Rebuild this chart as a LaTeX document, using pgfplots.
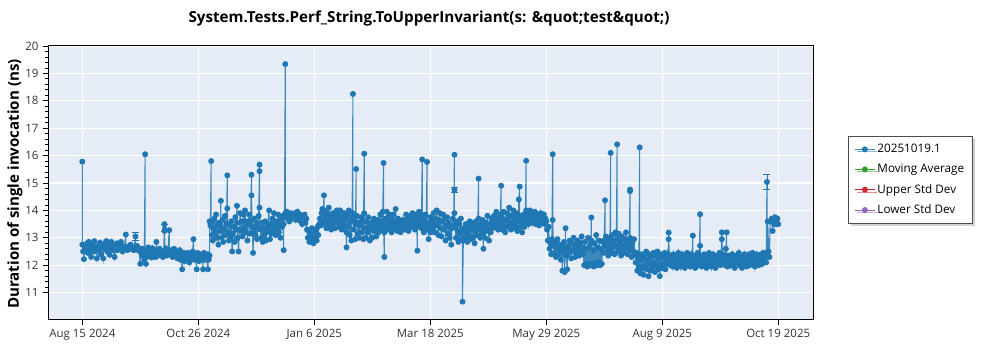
\documentclass[border=0pt]{standalone}
\usepackage{pgfplots}
\pgfplotsset{compat=1.18}
\usepackage{fontspec}
\setmainfont{Open Sans}
\usetikzlibrary{shadows}
\definecolor{c1}{HTML}{1F77B4}
\definecolor{c2}{HTML}{2CA02C}
\definecolor{c3}{HTML}{D62728}
\definecolor{c4}{HTML}{9467BD}
\definecolor{bgc}{HTML}{E5ECF6}
\definecolor{tickc}{HTML}{333333}
\begin{document}
\begin{tikzpicture}[x=1pt,y=1pt]
\path[use as bounding box] (0,0) rectangle (1000,350);
\begin{axis}[
  at={(48pt,30pt)}, anchor=south west,
  scale only axis, width=765.5pt, height=274pt,
  xmin=-21.3, xmax=453.9, ymin=10, ymax=20,
  axis background/.style={fill=bgc},
  axis line style={black, line width=1pt},
  xtick={0,72,144,216,288,360,432},
  xticklabels={Aug 15 2024,Oct 26 2024,Jan 6 2025,Mar 18 2025,May 29 2025,Aug 9 2025,Oct 19 2025},
  ytick={11,12,13,14,15,16,17,18,19,20},
  minor y tick num=4,
  tick align=outside,
  major tick length=5pt, minor tick length=3pt,
  tick style={black, line width=0.8pt},
  xtick pos=bottom, ytick pos=left,
  grid=major,
  major grid style={white, line width=1.2pt},
  minor grid style={draw=none},
  tick label style={font=\fontsize{11.5}{13}\selectfont, text=tickc},
  /pgf/number format/assume math mode=true,
  xticklabel style={yshift=-1pt},
  yticklabel style={xshift=-1pt},
  legend style={at={(1.045,0.6715)}, anchor=north west, draw=black!70, line width=0.8pt,
    fill=white, drop shadow={shadow xshift=2.5pt, shadow yshift=-2.5pt, fill=black!35},
    font=\fontsize{11.7}{13}\selectfont, row sep=6pt, inner xsep=6pt, inner ysep=6pt},
  legend cell align=left,
  legend image code/.code={\draw[mark repeat=2,mark phase=2,#1] plot coordinates {(0pt,0pt)(10pt,0pt)(20pt,0pt)};},
  clip=true,
]
\addplot[c1, draw opacity=0.85, line width=1.1pt, mark=*, mark size=2.4pt, mark options={solid, fill=c1, draw=c1, opacity=1}] coordinates {
(0,15.78)(0,12.75)(0.5,12.5)(1,12.22)(1.5,12.7)(2,12.55)(3,12.8)(3.5,12.45)(4,12.85)(5,12.6)(5.5,12.3)(6,12.75)(7,12.5)(7.5,12.88)(8,12.62)(9,12.25)(9.5,12.7)(10,12.55)(11,12.82)(11.5,12.4)(12,12.65)(13,12.25)(13.5,12.78)(14,12.6)(15,12.88)(15.5,12.5)(16,12.7)(17,12.38)(17.5,12.62)(18,12.85)(19,12.55)(19.5,12.7)(20,12.3)(21,12.65)(21.5,12.8)(22,12.55)(23,12.72)(23.5,12.6)(24,12.85)(25,12.5)(25.5,12.68)(26,12.6)(27,13.12)(27,12.65)(28,12.55)(29,12.7)(29.5,12.6)(30,12.75)(31,12.58)(31.5,12.65)(32,12.55)(33,13.05)(33,12.62)(34,12.7)(34.5,12.55)(35,12.62)
(36,12.05)(36.5,12.45)(37,12.6)(37.5,12.35)(38,12.55)(38.5,12.2)(39,16.05)(39,12.4)(39.5,12.05)(40,12.3)(40.5,12.55)(41,12.65)(41.5,12.35)(42,12.5)(43,12.28)(43.5,12.62)(44,12.45)(45,12.55)(45.5,12.3)(46,12.85)(46.5,12.5)(47,12.35)(48,12.6)(48.5,12.4)(49,12.5)(50,12.3)(50.5,12.45)(51,13.5)(51,13.25)(51.5,12.4)(52,12.6)(52.5,12.35)(53,12.45)(54,13.28)(54,12.5)(54.5,12.4)(55,12.55)(56,12.3)(56.5,12.45)(57,12.6)(58,12.35)(58.5,12.5)(59,12.25)(60,12.42)(60.5,12.55)
(61,12.2)(61.5,12.4)(62,11.85)(62.5,12.3)(63,12.45)(63.5,12.15)(64,12.35)(65,12.2)(65.5,12.45)(66,12.3)(66.5,12.1)(67,12.4)(68,12.25)(68.5,12.5)(69,12.95)(69,12.4)(69.5,12.2)(70,12.35)(71,11.85)(71,12.25)(71.5,12.45)(72,12.3)(72.5,12.15)(73,12.4)(74,12.2)(74.5,12.35)(75,11.85)(75,12.3)(75.5,12.45)(76,12.2)(76.5,12.35)(77,12.25)(78,11.85)(78,12.4)(78.5,12.2)
(79,12.35)(79,13.6)(79.5,13.45)(80,15.8)(80,13.55)(80.5,13.1)(81,12.9)(81.5,13.35)(82,13.7)(82.5,13.2)(83,13.85)(83.5,13.0)(84,13.45)(84.5,12.75)(85,13.55)(85.5,13.25)(86,14.35)(86,13.4)(86.5,13.0)(87,13.65)(87.5,12.85)(88,13.3)(88.5,13.8)(89,13.1)(89.5,13.5)(90,15.28)(90,14.07)(90.5,13.2)(91,12.9)(91.5,13.45)(92,13.0)(92.5,13.6)(93,12.5)(93.5,13.15)(94,13.4)(94.5,12.85)(95,13.75)(95.5,13.3)(96,14.17)(96,13.55)(96.5,13.0)(97,12.5)(97.5,13.3)(98,13.9)(98.5,13.25)(99,13.6)(99.5,13.05)(100,13.85)(100.5,13.35)(101,14.0)(101.5,13.2)(102,13.6)(102.5,12.9)(103,13.5)(103.5,13.85)(104,13.15)(104.5,13.6)(105,15.3)(105,14.55)(105.5,13.4)(106,12.45)(106.5,13.25)(107,13.7)(107.5,13.1)(108,13.55)(108.5,12.95)(109,13.4)(109.5,13.8)(110,15.67)(110,15.43)(110,14.1)(110.5,13.3)(111,13.0)(111.5,13.55)(112,12.85)(112.5,13.35)(113,13.1)(113.5,13.6)(114,12.9)(114.5,13.2)(115,13.45)(116,14.0)(116,13.3)(116.5,12.95)(117,13.5)(117.5,13.15)(118,13.7)(118.5,13.25)(119,13.9)(119.5,13.4)(120,13.1)(120.5,13.6)(121,13.3)(121.5,13.85)(122,13.2)(122.5,13.5)(123,13.0)(123.5,13.7)(124,13.4)(124.5,13.8)(125,12.55)(125,13.5)(125.5,13.75)(126,19.34)(126,13.9)
(126.5,13.75)(127,13.95)(127.5,13.7)(128,13.85)(128.5,13.6)(129,13.8)(129.5,13.9)(130,13.7)(130.5,13.85)(131,13.75)(132,13.9)(132.5,13.65)(133,13.8)(133.5,13.95)(134,13.7)(135,13.85)(135.5,13.6)(136,13.8)(136.5,13.5)(137,13.75)(138,13.85)(138.5,13.55)(139,13.7)
(139.5,13.3)(140,13.0)(140.5,13.25)(141,12.85)(141.5,13.1)(142,12.9)(142.5,13.35)(143,12.95)(143.5,12.8)(144,13.15)(144.5,13.0)(145,13.3)(145.5,12.9)(146,13.4)(146.5,13.1)(147,13.5)
(147.5,13.7)(148,13.45)(148.5,13.9)(149,14.05)(149.5,13.6)(150,14.55)(150,14.0)(150.5,13.5)(151,13.8)(151.5,13.35)(152,13.9)(152.5,13.6)(153,14.1)(153.5,13.45)(154,13.75)(154.5,13.3)(155,13.65)(155.5,13.9)(156,13.5)(156.5,13.8)(157,13.35)(157.5,13.7)(158,14.0)(158.5,13.55)(159,13.85)(159.5,13.4)(160,14.0)(160.5,13.6)(161,13.3)(161.5,13.75)(162,13.5)(162.5,13.9)(163,13.4)
(163.5,13.7)(164,12.65)(164,13.2)(164.5,13.85)(165,13.4)(165.5,14.0)(166,13.1)(166.5,13.6)(167,12.9)(167.5,13.75)(168,18.25)(168,13.9)(168.5,13.3)(169,13.6)(169.5,12.95)(170,15.51)(170,13.5)(170.5,13.8)(171,13.15)(171.5,13.55)(172,13.0)(172.5,13.45)(173,13.75)(173.5,13.2)(174,13.6)(174.5,12.95)(175,16.07)(175,13.9)(175.5,13.35)(176,13.0)(176.5,13.6)(177,13.2)(177.5,13.75)(178,13.4)(178.5,12.9)(179,13.3)(179.5,13.55)(180,13.0)(180.5,13.45)(181,13.7)(181.5,13.25)(182,13.5)(182.5,13.05)(183,13.4)(183.5,13.65)(184,13.2)(184.5,13.5)(185,13.85)(185.5,13.3)(186,13.6)(186.5,13.95)(187,15.73)(187,13.4)(187.5,12.3)(187.5,13.2)(188,13.7)(188.5,13.45)(189,13.95)(189.5,13.3)(190,13.6)(190.5,13.85)(191,13.4)(191.5,13.7)(192,13.2)(192.5,13.55)(193,13.85)(193.5,13.35)(194,13.6)(194.5,14.05)(195,13.5)(195.5,13.25)(196,13.7)(196.5,13.4)(197,13.6)(197.5,13.2)(198,13.55)(198.5,13.3)(199,13.65)(199.5,13.45)
(200,13.3)(200.5,13.6)(201,13.85)(201.5,13.45)(202,13.7)(202.5,13.25)(203,13.55)(203.5,13.8)(204,13.4)(204.5,13.65)(205,13.9)(205.5,13.5)(206,13.75)(206.5,13.3)(207,13.6)(207.5,13.85)(208,12.53)(208,13.4)(208.5,13.7)(209,13.95)(209.5,13.5)(210,13.8)(210.5,13.35)(211,15.86)(211,13.7)(211.5,13.45)(212,13.2)(212.5,13.6)(213,13.85)(213.5,13.4)(214,15.77)(214,13.55)(214.5,13.3)(215,12.95)(215.5,13.5)(216,13.75)(216.5,13.2)(217,13.6)(217.5,13.35)(218,13.9)
(218.5,13.5)(219,13.2)(219.5,13.7)(220,14.0)(220.5,13.45)(221,13.1)(221.5,13.65)(222,13.9)(222.5,13.35)(223,13.05)(223.5,13.6)(224,13.85)(224.5,13.3)(225,13.7)(225.5,12.9)(226,13.45)(226.5,13.75)(227,13.15)(227.5,13.55)(228,13.0)(228.5,13.4)(229,12.75)(229.5,13.35)(230,13.7)(230.5,13.45)(231,16.03)(231,14.75)(231,13.9)(231.5,13.4)(232,13.0)(232.5,13.6)(233,13.25)(233.5,12.85)(234,13.5)(234.5,13.15)(235,13.7)(235.5,12.95)(236,13.3)(236,10.67)(236.5,12.9)
(237,13.35)(237.5,13.0)(238,13.5)(238.5,13.2)(239,12.85)(239.5,13.4)(240,13.1)(240.5,13.6)(241,12.95)(241.5,13.3)(242,13.55)(242.5,13.0)(243,13.4)(243.5,12.8)(244,13.25)(244.5,13.6)(245,13.1)(245.5,13.45)(246,15.16)(246,13.7)(246.5,13.3)(247,13.0)(247.5,13.5)(248,13.15)(248.5,13.65)(249,12.6)(249,13.2)(249.5,13.45)(250,13.0)(250.5,13.55)(251,13.25)(251.5,13.8)(252,13.35)(252.5,12.9)(253,13.5)(253.5,13.2)(254,13.7)(254.5,13.35)(255,13.55)
(255.5,13.8)(256,13.4)(256.5,13.65)(257,13.95)(257.5,13.5)(258,13.3)(258.5,13.75)(259,13.45)(259.5,13.85)(260,14.9)(260,13.6)(260.5,13.3)(261,13.7)(261.5,13.95)(262,13.45)(262.5,13.2)(263,13.65)(263.5,13.9)(264,13.4)(264.5,13.75)(265,14.1)(265.5,13.55)(266,13.3)(266.5,13.8)(267,13.5)(267.5,14.0)(268,13.35)(268.5,13.7)(269,13.45)(269.5,13.9)(270,13.25)(270.5,13.6)(271,14.4)(271.5,14.87)(271.5,13.8)(272,13.4)(272.5,13.65)(273,13.2)(273.5,13.55)(274,13.85)(274.5,13.4)(275,13.7)(275.5,15.81)(275.5,14.0)(276,13.6)(276.5,13.85)(277,13.5)(277.5,13.75)(278,14.0)(278.5,13.6)(279,13.9)(279.5,13.55)(280,13.8)(280.5,13.65)(281,13.95)(281.5,13.5)(282,13.75)(282.5,13.6)(283,13.85)(283.5,13.45)(284,13.7)(284.5,13.9)(285,13.55)(285.5,13.75)(286,13.6)(286.5,13.85)(287,13.5)(287.5,13.7)(288,13.6)
(288.5,13.3)(289,12.9)(289.5,13.4)(290,12.6)(290.5,12.8)(291,12.4)(291.5,12.95)(292,16.05)(292,13.65)(292.5,12.7)(293,12.45)(293.5,12.85)(294,12.3)(294.5,12.65)(295,12.95)(295.5,12.4)(296,12.75)(296.5,12.55)(297,12.2)(297.5,12.7)(298,11.8)(298.5,12.5)(299,12.85)(299.5,11.75)(300,13.35)(300,12.6)(300.5,12.35)(301,11.85)(301.5,12.7)(302,12.45)(302.5,12.9)(303,12.55)(303.5,12.25)(304,12.8)(304.5,12.5)(305,13.0)(305.5,12.6)(306,12.3)(306.5,12.75)(307,12.45)(307.5,12.9)(308,12.6)(308.5,12.35)(309,12.8)(309.5,12.55)(310,13.05)(310.5,12.65)(311,12.4)
(311.5,12.0)(312,12.85)(312.5,12.05)(313,12.6)(313.5,11.95)(314,13.0)(314.5,12.05)(315,12.7)(315.5,12.0)(316,13.74)(316,12.9)(316.5,12.05)(317,12.55)(317.5,11.95)(318,12.8)(318.5,12.05)(319,13.1)(319.5,12.0)(320,12.65)(320.5,12.1)(321,12.9)(321.5,12.0)(322,12.6)(322.5,12.05)(323,12.85)
(323.5,12.45)(324,12.9)(324.5,14.37)(324.5,12.7)(325,13.05)(325.5,12.5)(326,12.85)(326.5,12.35)(327,13.0)(327.5,12.6)(328,16.1)(328,12.8)(328.5,12.45)(329,13.1)(329.5,12.65)(330,12.9)(330.5,12.4)(331,13.2)(331.5,12.7)(332,16.41)(332,12.95)(332.5,12.5)(333,13.15)(333.5,12.6)(334,12.85)(334.5,12.35)(335,13.05)(335.5,12.7)(336,12.45)(336.5,12.95)(337,12.6)(337.5,13.2)(338,12.75)(338.5,12.4)(339,12.9)(339.5,12.55)(340,14.76)(340,14.7)(340,13.0)(340.5,12.65)(341,12.3)(341.5,12.85)(342,12.5)(342.5,12.95)(343,12.4)
(343.5,12.1)(344,12.45)(344.5,11.8)(345,12.3)(345.5,11.95)(346,16.3)(346,12.2)(346.5,11.7)(347,12.4)(347.5,11.9)(348,12.25)(348.5,11.65)(349,12.35)(349.5,12.0)(350,12.5)(350.5,11.85)(351,12.2)(351.5,11.6)(352,12.4)(352.5,12.05)(353,11.8)(353.5,12.3)(354,11.95)(354.5,12.45)(355,12.1)(355.5,11.75)(356,12.35)(356.5,12.0)(357,12.5)(357.5,11.85)(358,12.25)(358.5,11.6)(359,12.4)(359.5,12.05)(360,11.9)(360.5,12.3)(361,12.0)(361.5,12.45)(362,11.85)(362.5,12.2)(363,12.4)(363.5,12.05)(364,13.19)(364,12.95)(364.5,12.3)
(365,12.0)(365.5,12.35)(366,12.15)(366.5,11.95)(367,12.4)(367.5,12.2)(368,12.05)(368.5,12.3)(369,11.9)(369.5,12.25)(370,12.45)(370.5,12.1)(371,12.3)(371.5,11.95)(372,12.2)(372.5,12.4)(373,12.05)(373.5,12.25)(374,11.9)(374.5,12.35)(375,12.15)(375.5,12.45)(376,12.0)(376.5,12.3)(377,12.1)(377.5,11.95)(378,12.4)(378.5,12.2)(379,13.08)(379,12.35)(379.5,12.05)(380,12.25)(380.5,11.9)(381,12.3)(381.5,12.15)(382,12.45)(382.5,12.0)(383,12.3)(383.5,13.86)(383.5,12.71)(384,12.2)(384.5,11.95)(385,12.35)(385.5,12.1)(386,12.4)(386.5,12.0)(387,12.25)(387.5,11.9)(388,12.3)(388.5,12.15)(389,12.45)(389.5,12.05)(390,12.3)(390.5,11.95)(391,12.2)(391.5,12.4)(392,12.1)(392.5,12.3)(393,11.9)(393.5,12.25)(394,12.35)(394.5,12.05)(395,12.2)(395.5,12.45)(396,12.0)(396.5,12.3)(397,13.2)(397,12.95)(397.5,12.4)(398,12.1)(398.5,12.3)(399,12.0)(399.5,12.6)(400,13.2)(400,12.25)(400.5,11.95)(401,12.35)(401.5,12.1)(402,12.3)(402.5,12.0)(403,12.25)(403.5,12.4)(404,12.05)(404.5,12.3)(405,11.9)(405.5,12.2)(406,12.35)(406.5,12.1)(407,12.25)(407.5,12.45)(408,12.0)(408.5,12.3)(409,12.15)(409.5,11.9)(410,12.3)(410.5,12.2)(411,12.4)(411.5,12.05)(412,12.25)(412.5,11.95)(413,12.35)(413.5,12.15)(414,12.4)(414.5,12.0)(415,12.3)(415.5,12.2)(416,12.45)(416.5,12.05)(417,12.3)(417.5,11.95)(418,12.2)(418.5,12.4)(419,12.1)(419.5,12.3)(420,12.0)
(420.5,12.35)(421,12.15)(421.5,12.4)(422,12.05)(422.5,12.3)(423,12.45)(423.5,12.2)(424,12.35)(424.5,12.1)(425,15.04)(425,12.4)(425.5,13.6)(426,12.5)(426.5,12.3)(427,13.6)(428,13.7)(428.5,13.25)(429,13.7)(429.5,13.5)(430,13.75)(431,13.5)(431.5,13.7)(432,13.5)
};
\addlegendentry{20251019.1}
\addplot[c1, only marks, mark=none, forget plot,
  error bars/.cd, y dir=both, y explicit,
  error bar style={c1, line width=0.8pt},
  error mark options={rotate=90, mark size=3.5pt, line width=0.8pt, c1}]
  coordinates {(33,13.05) +- (0,0.15) (51,13.37) +- (0,0.13) (231,14.75) +- (0,0.1) (425,15.03) +- (0,0.27)};
\addlegendimage{c2, line width=1.1pt, mark=*, mark size=2.4pt, mark options={fill=c2}}
\addlegendentry{Moving Average}
\addlegendimage{c3, line width=1.1pt, mark=*, mark size=2.4pt, mark options={fill=c3}}
\addlegendentry{Upper Std Dev}
\addlegendimage{c4, line width=1.1pt, mark=*, mark size=2.4pt, mark options={fill=c4}}
\addlegendentry{Lower Std Dev}
\end{axis}
\node[font=\fontsize{15.2}{18}\selectfont\bfseries, anchor=center] at (429,331) {System.Tests.Perf\_String.ToUpperInvariant(s: \&quot;test\&quot;)};
\node[font=\fontsize{15.1}{18}\selectfont\bfseries, rotate=90, anchor=center] at (15,166) {Duration of single invocation (ns)};
\end{tikzpicture}
\end{document}
